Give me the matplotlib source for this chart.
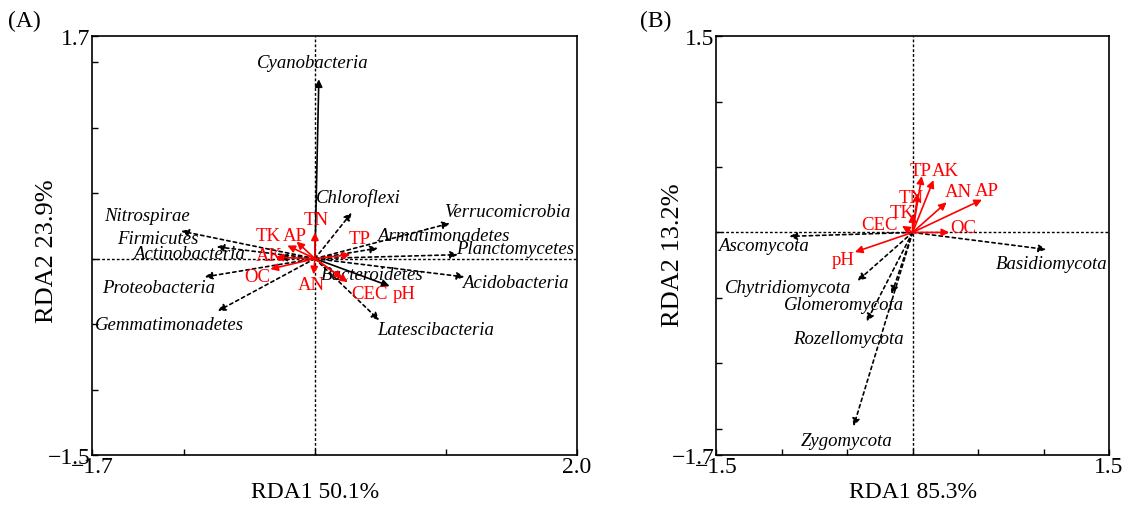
import numpy as np
import matplotlib.pyplot as plt

plt.rcParams['font.family'] = ['Liberation Serif', 'DejaVu Serif']
plt.rcParams['axes.unicode_minus'] = True

# ---- panel A: bacteria ----
a_species = ['Cyanobacteria', 'Chloroflexi', 'Verrucomicrobia', 'Armatimonadetes',
             'Planctomycetes', 'Acidobacteria', 'Bacteroidetes', 'Latescibacteria',
             'Nitrospirae', 'Firmicutes', 'Actinobacteria', 'Proteobacteria',
             'Gemmatimonadetes']
a_sp_x = [0.03, 0.28, 1.03, 0.48, 1.09, 1.14, 0.57, 0.49, -1.02, -0.75, -0.27, -0.84, -0.74]
a_sp_y = [1.37, 0.35, 0.27, 0.08, 0.03, -0.14, -0.21, -0.47, 0.21, 0.09, 0.01, -0.14, -0.40]
a_sp_solid = [True, False, False, False, False, False, True, False, False, False, False, False, False]

a_env = ['TN', 'TK', 'AP', 'AK', 'OC', 'AN', 'TP', 'CEC', 'pH']
a_env_x = [0.0, -0.21, -0.14, -0.30, -0.34, -0.01, 0.27, 0.25, 0.21]
a_env_y = [0.20, 0.10, 0.13, 0.01, -0.08, -0.12, 0.03, -0.18, -0.15]

# label positions (layout)
a_sp_lab = [(-0.02, 1.50), (0.33, 0.47), (1.47, 0.36), (0.98, 0.18), (1.53, 0.08),
            (1.53, -0.18), (0.44, -0.12), (0.92, -0.54), (-1.28, 0.33), (-1.20, 0.15),
            (-0.96, 0.04), (-1.19, -0.22), (-1.11, -0.50)]
a_env_lab = [(0.01, 0.30), (-0.36, 0.18), (-0.15, 0.18), (-0.35, 0.02), (-0.44, -0.14),
             (-0.03, -0.20), (0.34, 0.15), (0.42, -0.27), (0.68, -0.27)]

# ---- panel B: fungi ----
b_species = ['Ascomycota', 'Basidiomycota', 'Chytridiomycota', 'Glomeromycota',
             'Rozellomycota', 'Zygomycota']
b_sp_x = [-0.94, 1.02, -0.42, -0.16, -0.35, -0.45]
b_sp_y = [-0.03, -0.13, -0.37, -0.47, -0.68, -1.48]

b_env = ['TP', 'AK', 'TN', 'TK', 'AN', 'AP', 'OC', 'CEC', 'pH']
b_env_x = [0.07, 0.16, 0.04, 0.0, 0.26, 0.53, 0.28, -0.08, -0.44]
b_env_y = [0.43, 0.40, 0.30, 0.14, 0.23, 0.25, 0.0, 0.05, -0.15]

b_sp_lab = [(-1.14, -0.10), (1.06, -0.24), (-0.95, -0.42), (-0.52, -0.55),
            (-0.49, -0.81), (-0.50, -1.59)]
b_env_lab = [(0.06, 0.47), (0.25, 0.47), (-0.01, 0.27), (-0.08, 0.15), (0.35, 0.31),
             (0.57, 0.32), (0.39, 0.04), (-0.25, 0.06), (-0.53, -0.21)]


def arrow(ax, x, y, color, ls):
    ax.annotate('', xy=(x, y), xytext=(0, 0),
                arrowprops=dict(arrowstyle='-|>', color=color, lw=1.2, linestyle=ls,
                                mutation_scale=11, shrinkA=0, shrinkB=0))


def panel(ax, xlim, ylim, xticks, yticks, xlabel, ylabel, xlab_pos, ylab_pos):
    ax.set_xlim(xlim)
    ax.set_ylim(ylim)
    ax.axhline(0, color='black', lw=1, ls=(0, (2, 1.5)), zorder=0)
    ax.axvline(0, color='black', lw=1, ls=(0, (2, 1.5)), zorder=0)
    ax.set_xticks(xticks)
    ax.set_yticks(yticks)
    ax.set_xticklabels([f'{xlim[0]:.1f}'.replace('-', '\u2212')] + [''] * (len(xticks) - 2)
                       + [f'{xlim[1]:.1f}'])
    ax.set_yticklabels([f'{ylim[0]:.1f}'.replace('-', '\u2212')] + [''] * (len(yticks) - 2)
                       + [f'{ylim[1]:.1f}'])
    ax.tick_params(direction='in', length=4, width=1, labelsize=17, pad=1)
    for s in ax.spines.values():
        s.set_linewidth(1.2)
    ax.set_xlabel(xlabel, fontsize=17)
    ax.set_ylabel(ylabel, fontsize=19)
    ax.xaxis.set_label_coords(*xlab_pos)
    ax.yaxis.set_label_coords(*ylab_pos)


fig = plt.figure(figsize=(11.28, 5.06), dpi=100)
axA = fig.add_axes([0.0816, 0.0988, 0.430, 0.828])
axB = fig.add_axes([0.6348, 0.0988, 0.3484, 0.828])

panel(axA, (-1.7, 2.0), (-1.5, 1.7), [-1.7, -1, 0, 1, 2.0],
      [-1.5, -1.0, -0.5, 0, 0.5, 1.0, 1.5, 1.7], 'RDA1 50.1%', 'RDA2 23.9%',
      (0.4595, -0.062), (-0.070, 0.489))
panel(axB, (-1.5, 1.5), (-1.7, 1.5), [-1.5, -1, -0.5, 0, 0.5, 1, 1.5],
      [-1.7, -1.5, -1.0, -0.5, 0, 0.5, 1.0, 1.5], 'RDA1 85.3%', 'RDA2 13.2%',
      (0.5, -0.062), (-0.081, 0.48))

fig.text(8 / 1128, 1 - 27 / 506, '(A)', fontsize=17)
fig.text(640 / 1128, 1 - 27 / 506, '(B)', fontsize=17)

for name, x, y, solid, (lx, ly) in zip(a_species, a_sp_x, a_sp_y, a_sp_solid, a_sp_lab):
    arrow(axA, x, y, 'black', '-' if solid else (0, (2, 2)))
    axA.text(lx, ly, name, style='italic', fontsize=13.5, ha='center', va='center')
for name, x, y, (lx, ly) in zip(a_env, a_env_x, a_env_y, a_env_lab):
    arrow(axA, x, y, 'red', '-')
    axA.text(lx, ly, name, color='red', fontsize=13.5, ha='center', va='center')

for name, x, y, (lx, ly) in zip(b_species, b_sp_x, b_sp_y, b_sp_lab):
    arrow(axB, x, y, 'black', (0, (2, 2)))
    axB.text(lx, ly, name, style='italic', fontsize=13.5, ha='center', va='center')
for name, x, y, (lx, ly) in zip(b_env, b_env_x, b_env_y, b_env_lab):
    arrow(axB, x, y, 'red', '-')
    axB.text(lx, ly, name, color='red', fontsize=13.5, ha='center', va='center')

fig.savefig('out.png', dpi=100)
